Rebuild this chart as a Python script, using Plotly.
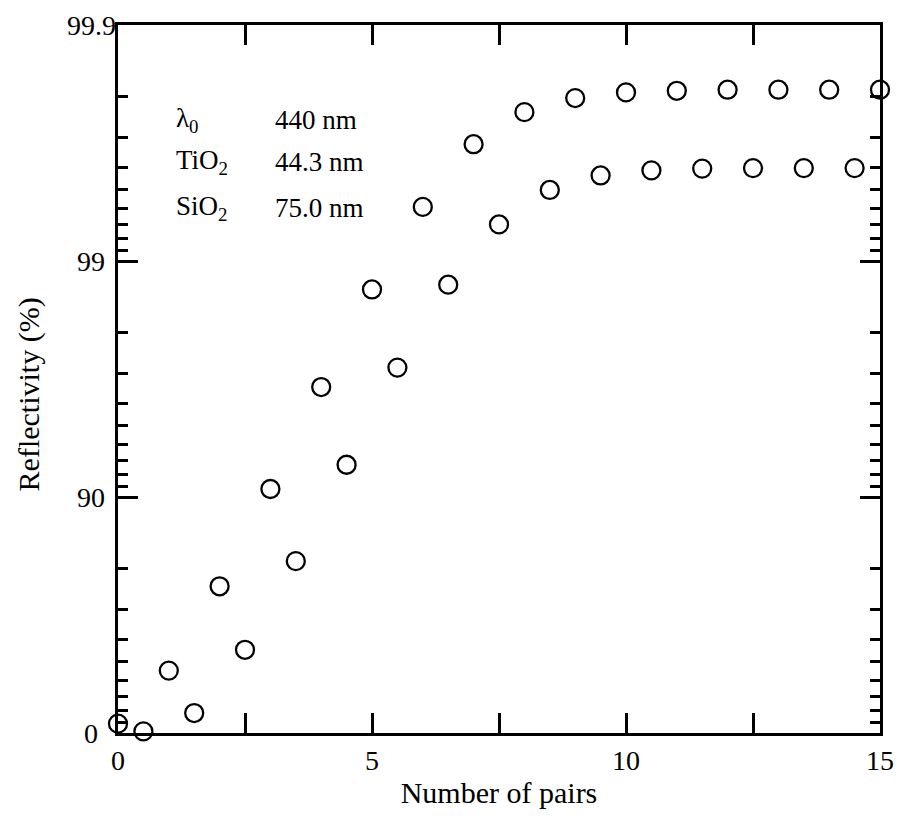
import numpy as np
import plotly.graph_objects as go

# Reflectivity (%) against number of TiO2/SiO2 pairs
pairs_full = [0, 1, 2, 3, 4, 5, 6, 7, 8, 9, 10, 11, 12, 13, 14, 15]
refl_full = [8.7, 45.6, 76.1, 90.75, 96.58, 98.68, 99.41, 99.68, 99.766,
             99.796, 99.807, 99.810, 99.812, 99.812, 99.812, 99.812]

pairs_half = [0.5, 1.5, 2.5, 3.5, 4.5, 5.5, 6.5, 7.5, 8.5, 9.5, 10.5,
              11.5, 12.5, 13.5, 14.5]
refl_half = [1.55, 17.7, 55.6, 81.3, 92.70, 97.17, 98.74, 99.30, 99.50,
             99.566, 99.587, 99.594, 99.596, 99.596, 99.596]

# Major reflectivity ticks and their labels
y_major = [0, 90, 99, 99.9]
y_major_text = ["0", "90", "99", "99.9"]

x_ticks = [0, 5, 10, 15]
x_tick_text = ["0", "5", "10", "15"]

legend_rows = [("λ<sub>0</sub>", "440 nm"),
               ("TiO<sub>2</sub>", "44.3 nm"),
               ("SiO<sub>2</sub>", "75.0 nm")]


def to_axis(r):
    """Map reflectivity in percent onto the -log10(1 - R) scale."""
    return np.round(-np.log10(1.0 - np.asarray(r, dtype=float) / 100.0), 9)


# Minor ticks: 10 % ... 80 % steps of the remaining transmission per decade
minor_vals = []
for d in range(3):
    for k in range(1, 9):
        minor_vals.append(d - np.log10(1 - k / 10))

FONT = "Liberation Serif, Times New Roman, serif"
marker = dict(symbol="circle-open", size=18, color="black",
              line=dict(width=2.3, color="black"))

fig = go.Figure()
for xs, rs in ((pairs_full, refl_full), (pairs_half, refl_half)):
    fig.add_trace(go.Scatter(x=xs, y=to_axis(rs), mode="markers",
                             marker=marker, cliponaxis=False,
                             showlegend=False))

fig.update_layout(
    width=906, height=832,
    margin=dict(l=118, r=17, t=25, b=99),
    paper_bgcolor="white", plot_bgcolor="white",
    font=dict(family=FONT, color="black", size=28),
    xaxis=dict(
        range=[0, 15], tickmode="array", tickvals=x_ticks,
        ticktext=x_tick_text, ticks="inside", ticklen=20, tickwidth=2.5,
        tickcolor="black", showline=True, linewidth=3, linecolor="black",
        mirror="ticks", showgrid=False, zeroline=False,
        tickfont=dict(size=28, family=FONT),
        minor=dict(tickmode="linear", tick0=0, dtick=2.5, ticks="inside",
                   ticklen=20, tickwidth=2.5, tickcolor="black",
                   showgrid=False),
        title=dict(text="Number of pairs", font=dict(size=30, family=FONT),
                   standoff=8),
    ),
    yaxis=dict(
        range=[0, 3], tickmode="array", tickvals=list(to_axis(y_major)),
        showticklabels=False,
        ticks="inside", ticklen=20, tickwidth=2.5, tickcolor="black",
        showline=True, linewidth=3, linecolor="black", mirror="ticks",
        showgrid=False, zeroline=False,
        minor=dict(tickmode="array", tickvals=minor_vals, ticks="inside",
                   ticklen=10, tickwidth=2.5, tickcolor="black",
                   showgrid=False),
    ),
)

# Centred reflectivity labels beside the left axis
for yv, txt in zip(to_axis(y_major), y_major_text):
    fig.add_annotation(x=-0.035, xref="paper", y=float(yv), yref="y",
                       text=txt, showarrow=False, xanchor="center",
                       yanchor="middle", font=dict(size=28, family=FONT))

# Vertical axis title
fig.add_annotation(x=-0.117, xref="paper", y=0.478, yref="paper",
                   text="Reflectivity (%)", textangle=-90, showarrow=False,
                   xanchor="center", yanchor="middle",
                   font=dict(size=30, family=FONT))

# Design parameters listed in the upper left
row_y = [0.866, 0.806, 0.741]
for (name, val), yp in zip(legend_rows, row_y):
    fig.add_annotation(x=0.074, xref="paper", y=yp, yref="paper", text=name,
                       showarrow=False, xanchor="left", yanchor="middle",
                       font=dict(size=27, family=FONT))
    fig.add_annotation(x=0.2036, xref="paper", y=yp, yref="paper", text=val,
                       showarrow=False, xanchor="left", yanchor="middle",
                       font=dict(size=27, family=FONT))

fig.write_html("out.html")
